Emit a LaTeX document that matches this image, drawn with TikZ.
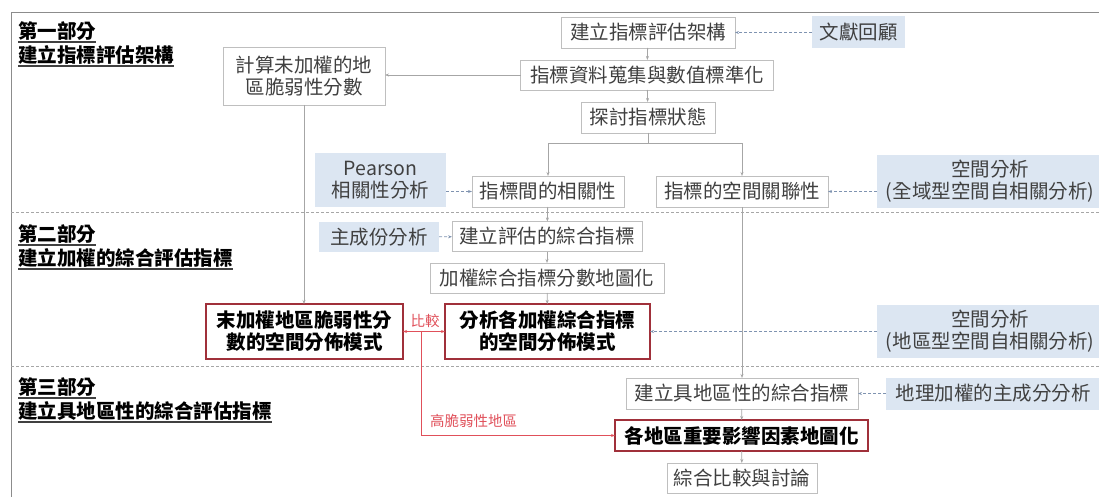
\documentclass[tikz,border=0pt]{standalone}
\usepackage{fontspec}
\setmainfont{Noto Sans CJK TC}
\usetikzlibrary{arrows.meta,calc}
\definecolor{boxgray}{HTML}{BFBFBF}
\definecolor{txtgray}{HTML}{404040}
\definecolor{bluefill}{HTML}{DCE6F2}
\definecolor{redbd}{HTML}{A0303A}
\definecolor{redln}{HTML}{E0505A}
\definecolor{lngray}{HTML}{A6A6A6}
\definecolor{framegray}{HTML}{8C8C8C}
\definecolor{dashc}{HTML}{7F93B0}
\begin{document}
\begin{tikzpicture}[x=1pt,y=-1pt,
  every node/.style={inner sep=0pt, outer sep=0pt, align=center,
    font=\fontsize{19.5}{22}\selectfont, text=txtgray},
  gbox/.style={draw=boxgray, line width=0.8pt, fill=white},
  bbox/.style={fill=bluefill},
  rbox/.style={draw=redbd, line width=1.1pt, fill=white,
    font=\fontsize{19.5}{22}\selectfont\bfseries, text=black},
  conn/.style={draw=lngray, line width=0.8pt, -{Stealth[length=4pt,width=3pt]}},
  dconn/.style={draw=dashc, line width=0.8pt, dash pattern=on 3pt off 2pt,
    -{Stealth[length=4pt,width=3pt]}},
  rconn/.style={draw=redln, line width=1pt},
  sepline/.style={draw=lngray, line width=0.8pt, dash pattern=on 3pt off 2pt},
  title/.style={anchor=west, font=\fontsize{19.5}{22}\selectfont\bfseries, text=black},
  redlabel/.style={font=\fontsize{14.5}{16}\selectfont, text=redln},
  uline/.style={draw=black!75, line width=1.2pt}
]
\useasboundingbox (0,0) rectangle (1099,497);

% frame and separators
\draw[framegray, line width=1pt] (11,520) -- (11,13) -- (1120,13);
\coordinate (sepAL) at (11,212);
\coordinate (sepAR) at (1110,212);
\coordinate (sepBL) at (11,366);
\coordinate (sepBR) at (1110,366);
\draw[sepline] (sepAL) -- (sepAR);
\draw[sepline] (sepBL) -- (sepBR);

% section titles
\node[title] (s1a) at (18,31) {第一部分};
\node[title] (s1b) at (18,55) {建立指標評估架構};
\node[title] (s2a) at (18,234) {第二部分};
\node[title] (s2b) at (18,258) {建立加權的綜合評估指標};
\node[title] (s3a) at (18,387) {第三部分};
\node[title] (s3b) at (18,411) {建立具地區性的綜合評估指標};
\foreach \n in {s1a,s1b,s2a,s2b,s3a,s3b}
  \draw[uline] ([yshift=-1.5pt]\n.south west) -- ([yshift=-1.5pt]\n.south east);

% nodes
\node[gbox, minimum width=174, minimum height=31] (n1) at (648,32.5) {建立指標評估架構};
\node[bbox, minimum width=93, minimum height=32] (lit) at (858.5,32.5) {文獻回顧};
\node[gbox, minimum width=253, minimum height=30] (n2) at (647,75) {指標資料蒐集與數值標準化};
\node[gbox, minimum width=134, minimum height=31] (n3) at (648,117.5) {探討指標狀態};
\node[gbox, minimum width=162, minimum height=58] (calc) at (304,76) {計算未加權的地\\區脆弱性分數};
\node[bbox, minimum width=131, minimum height=54] (pear) at (380.5,180) {Pearson\\相關性分析};
\node[gbox, minimum width=152, minimum height=31] (n4) at (548,191.5) {指標間的相關性};
\node[gbox, minimum width=172, minimum height=31] (n5) at (742,191.5) {指標的空間關聯性};
\node[bbox, minimum width=226, minimum height=53] (sa1) at (990,181.5) {空間分析\\(全域型空間自相關分析)};
\node[bbox, minimum width=120, minimum height=30] (pca) at (379,237) {主成份分析};
\node[gbox, minimum width=190, minimum height=30] (n6) at (547,236.5) {建立評估的綜合指標};
\node[gbox, minimum width=234, minimum height=30] (n7) at (547,278) {加權綜合指標分數地圖化};
\node[rbox, minimum width=197, minimum height=55] (r1) at (304.5,331.5) {末加權地區脆弱性分\\數的空間分佈模式};
\node[rbox, minimum width=205, minimum height=55] (r2) at (547.5,331.5) {分析各加權綜合指標\\的空間分佈模式};
\node[bbox, minimum width=226, minimum height=53] (sa2) at (990,331.5) {空間分析\\(地區型空間自相關分析)};
\node[gbox, minimum width=232, minimum height=31] (n8) at (742,393.5) {建立具地區性的綜合指標};
\node[bbox, minimum width=214, minimum height=32] (gw) at (993,393.5) {地理加權的主成分分析};
\node[rbox, minimum width=253, minimum height=31] (r3) at (741.5,435.5) {各地區重要影響因素地圖化};
\node[gbox, minimum width=150, minimum height=30] (n9) at (742,478) {綜合比較與討論};

% connectors
\draw[dconn] (lit) -- (n1);
\draw[conn] (n1) -- (n2);
\draw[conn] (n2) -- (n3);
\draw[conn] (n2.west) -- (n2.west -| calc.east);
\draw[conn] (n3.south) -- ++(0,10) -| (n4.north);
\draw[conn] (n3.south) -- ++(0,10) -| (n5.north);
\draw[dconn] (pear.east |- n4.west) -- (n4.west);
\draw[dconn] (sa1.west |- n5.east) -- (n5.east);
\draw[conn] (n4) -- (n6);
\draw[dconn] (pca) -- (n6);
\draw[conn] (n6) -- (n7);
\draw[conn] (n7) -- (r2);
\draw[conn] (calc.south) -- (calc.south |- r1.north);
\draw[dconn] (sa2) -- (r2);
\draw[conn] (n5.south) -- (n5.south |- n8.north);
\draw[dconn] (gw) -- (n8);
\draw[conn] (n8) -- (r3);
\draw[conn] (r3) -- (n9);

% red comparison connectors
\draw[rconn, {Stealth[length=4pt,width=3pt]}-{Stealth[length=4pt,width=3pt]}] (r1.east) -- (r2.west);
\coordinate (rc) at ($(r1.east)!0.45!(r2.west)$);
\draw[rconn, -{Stealth[length=4pt,width=3pt]}] (rc) |- (r3.west);
\node[redlabel] (cmp) at (425,321) {比較};
\node[redlabel, anchor=west] (hv) at (430,421) {高脆弱性地區};
\end{tikzpicture}
\end{document}
